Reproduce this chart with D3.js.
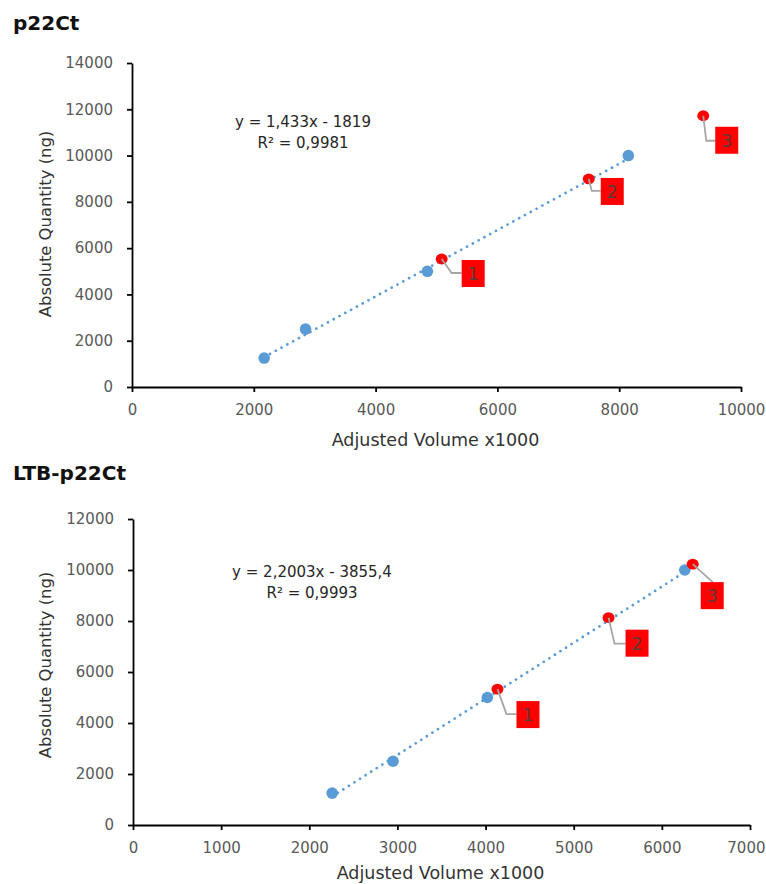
<!DOCTYPE html>
<html>
<head>
<meta charset="utf-8">
<script src="https://cdn.jsdelivr.net/npm/d3@7"></script>
<style>
  body { margin: 0; background: #fff; }
  svg { display: block; font-family: "DejaVu Sans", sans-serif; }
</style>
</head>
<body>
<svg id="chart" width="766" height="884"></svg>
<script>
// ---- data ----
// p22Ct
var topTitle = "p22Ct"
var topXTicks = [0, 2000, 4000, 6000, 8000, 10000]
var topYTicks = [0, 2000, 4000, 6000, 8000, 10000, 12000, 14000]
var topStdX = [2170, 2850, 4850, 8150]
var topStdY = [1250, 2500, 5000, 10000]
var topSmpX = [5085, 7500, 9380]
var topSmpY = [5530, 8990, 11720]
var topSmpNames = ["1", "2", "3"]
var topFit = [1.433, -1819]
var topEquation = ["y = 1,433x - 1819", "R² = 0,9981"]

// LTB-p22Ct
var botTitle = "LTB-p22Ct"
var botXTicks = [0, 1000, 2000, 3000, 4000, 5000, 6000, 7000]
var botYTicks = [0, 2000, 4000, 6000, 8000, 10000, 12000]
var botStdX = [2260, 2950, 4020, 6260]
var botStdY = [1250, 2500, 5000, 10000]
var botSmpX = [4135, 5395, 6350]
var botSmpY = [5330, 8130, 10230]
var botSmpNames = ["1", "2", "3"]
var botFit = [2.2003, -3855.4]
var botEquation = ["y = 2,2003x - 3855,4", "R² = 0,9993"]

var xTitle = "Adjusted Volume x1000"
var yTitle = "Absolute Quantity (ng)"

// ---- layout (pixels) ----
var panels = [
  {
    title: topTitle, titleY: 30,
    left: 132, right: 741, top: 63, bottom: 387,
    xTicks: topXTicks, yTicks: topYTicks,
    stdX: topStdX, stdY: topStdY, smpX: topSmpX, smpY: topSmpY, names: topSmpNames,
    fit: topFit, eq: topEquation, eqX: 303, eqY: 127,
    xTitleY: 446, yTitleY: 224,
    // leader path points relative to marker, and box offset
    labels: [
      { path: [[0, 0], [10, 14], [20, 14]], box: [20, 1] },
      { path: [[0, 0], [3, 12], [12, 12]], box: [12, -1] },
      { path: [[0, 0], [3, 25], [12, 25]], box: [12, 11] }
    ]
  },
  {
    title: botTitle, titleY: 480,
    left: 133, right: 750, top: 519, bottom: 825,
    xTicks: botXTicks, yTicks: botYTicks,
    stdX: botStdX, stdY: botStdY, smpX: botSmpX, smpY: botSmpY, names: botSmpNames,
    fit: botFit, eq: botEquation, eqX: 312, eqY: 577,
    xTitleY: 879, yTitleY: 665,
    labels: [
      { path: [[0, 0], [9, 25], [19, 25]], box: [19, 12] },
      { path: [[0, 0], [6, 26], [17, 26]], box: [17, 12] },
      { path: [[0, 0], [20, 18]], box: [8, 18] }
    ]
  }
]

var blue = "#5b9bd5"
var red = "#ff0000"
var svg = d3.select("#chart")

svg.append("rect").attr("width", 766).attr("height", 884).attr("fill", "#fff")

panels.forEach(function(p) {
  var x = d3.scaleLinear()
    .domain([p.xTicks[0], p.xTicks[p.xTicks.length - 1]])
    .range([p.left, p.right])
  var y = d3.scaleLinear()
    .domain([p.yTicks[0], p.yTicks[p.yTicks.length - 1]])
    .range([p.bottom, p.top])

  svg.append("text")
    .attr("x", 13).attr("y", p.titleY)
    .attr("font-size", "20px").attr("font-weight", "bold")
    .attr("fill", "#111")
    .text(p.title)

  // axes
  var yAxis = svg.append("g")
    .attr("transform", "translate(" + p.left + ",0)")
    .call(d3.axisLeft(y).tickValues(p.yTicks).tickFormat(d3.format("d"))
      .tickSize(5).tickSizeOuter(0).tickPadding(14))
  var xAxis = svg.append("g")
    .attr("transform", "translate(0," + p.bottom + ")")
    .call(d3.axisBottom(x).tickValues(p.xTicks).tickFormat(d3.format("d"))
      .tickSize(5).tickSizeOuter(0).tickPadding(12))
  ;[xAxis, yAxis].forEach(function(a) {
    a.select(".domain").attr("stroke", "#000").attr("stroke-width", 1.8)
    a.selectAll(".tick line").attr("stroke", "#000").attr("stroke-width", 1.8)
    a.selectAll(".tick text")
      .attr("font-family", "DejaVu Sans, sans-serif")
      .attr("font-size", "15px")
      .attr("fill", "#595959")
  })
  // keep the last x label inside the page
  xAxis.selectAll(".tick text").filter(function(d) { return x(d) + 20 > 766 })
    .attr("text-anchor", "end")
    .attr("x", function(d) { return 765 - x(d) })

  svg.append("text")
    .attr("x", (p.left + p.right) / 2 - 1).attr("y", p.xTitleY)
    .attr("text-anchor", "middle")
    .attr("font-size", "17.5px").attr("fill", "#333")
    .text(xTitle)

  svg.append("text")
    .attr("transform", "translate(51," + p.yTitleY + ") rotate(-90)")
    .attr("text-anchor", "middle")
    .attr("font-size", "16.4px").attr("fill", "#333")
    .text(yTitle)

  // equation
  svg.selectAll(null).data(p.eq).enter().append("text")
    .attr("x", p.eqX)
    .attr("y", function(d, i) { return p.eqY + i * 21 })
    .attr("text-anchor", "middle")
    .attr("font-size", "15px").attr("fill", "#262626")
    .text(function(d) { return d })

  // standards
  var std = p.stdX.map(function(v, i) { return { x: v, y: p.stdY[i] } })
  svg.selectAll(null).data(std).enter().append("circle")
    .attr("cx", function(d) { return x(d.x) })
    .attr("cy", function(d) { return y(d.y) })
    .attr("r", 5.8)
    .attr("fill", blue)

  // trendline
  var ext = d3.extent(p.stdX)
  svg.append("path")
    .datum(ext)
    .attr("fill", "none")
    .attr("stroke", blue)
    .attr("stroke-width", 2.8)
    .attr("stroke-linecap", "round")
    .attr("stroke-dasharray", "0 6.6")
    .attr("d", d3.line()
      .x(function(d) { return x(d) })
      .y(function(d) { return y(p.fit[0] * d + p.fit[1]) }))

  // samples
  var smp = p.smpX.map(function(v, i) { return { x: v, y: p.smpY[i], name: p.names[i], lab: p.labels[i] } })
  svg.selectAll(null).data(smp).enter().append("ellipse")
    .attr("cx", function(d) { return x(d.x) })
    .attr("cy", function(d) { return y(d.y) })
    .attr("rx", 6).attr("ry", 5.4)
    .attr("fill", red)

  svg.selectAll(null).data(smp).enter().append("path")
    .attr("fill", "none")
    .attr("stroke", "#a6a6a6")
    .attr("stroke-width", 1.8)
    .attr("d", function(d) {
      var cx = x(d.x), cy = y(d.y)
      return d3.line()(d.lab.path.map(function(q) { return [cx + q[0], cy + q[1]] }))
    })

  var boxes = svg.selectAll(null).data(smp).enter().append("g")
    .attr("transform", function(d) {
      return "translate(" + (x(d.x) + d.lab.box[0]) + "," + (y(d.y) + d.lab.box[1]) + ")"
    })
  boxes.append("rect")
    .attr("width", 23).attr("height", 27)
    .attr("fill", red)
  boxes.append("text")
    .attr("x", 11.5).attr("y", 20)
    .attr("text-anchor", "middle")
    .attr("font-size", "17px").attr("fill", "#5a3a3a")
    .text(function(d) { return d.name })
})
</script>
</body>
</html>
